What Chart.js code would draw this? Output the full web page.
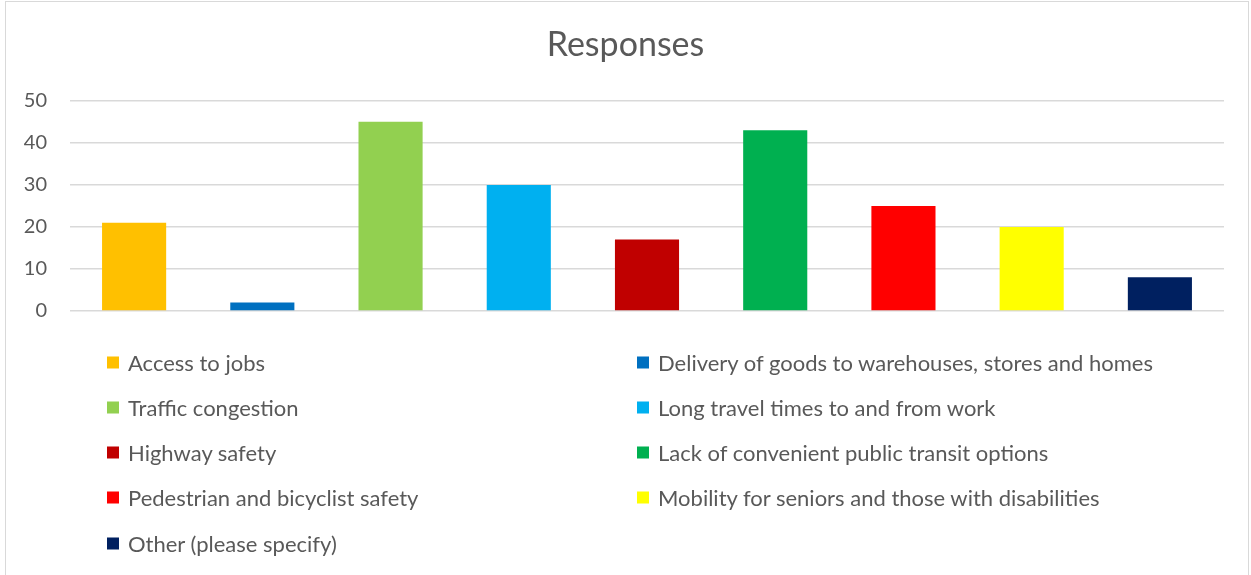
<!DOCTYPE html>
<html>
<head>
<meta charset="utf-8">
<script src="https://cdn.jsdelivr.net/npm/chart.js@4"></script>
<style>
  html, body { margin: 0; padding: 0; background: #fff; }
  #wrap { position: relative; width: 1251px; height: 575px; overflow: hidden; }
  #frame { position: absolute; left: 5px; top: 1px; width: 1244px; height: 620px; border: 1px solid #d9d9d9; box-sizing: border-box; pointer-events: none; }
  canvas { position: absolute; left: 0; top: 0; }
  #legend { position: absolute; left: 0; top: 0; width: 1251px; height: 575px; font-family: Lato, "Open Sans", sans-serif; font-size: 22px; color: #595959; }
  .item { position: absolute; display: flex; align-items: center; white-space: nowrap; transform: translateY(-50%); }
  .box { width: 12px; height: 12px; margin-right: 9px; flex: none; }
</style>
</head>
<body>
<div id="wrap">
  <canvas id="c" width="1251" height="575"></canvas>
  <div id="frame"></div>
  <div id="legend"></div>
</div>
<script>
const categories = [
  "Access to jobs",
  "Delivery of goods to warehouses, stores and homes",
  "Traffic congestion",
  "Long travel times to and from work",
  "Highway safety",
  "Lack of convenient public transit options",
  "Pedestrian and bicyclist safety",
  "Mobility for seniors and those with disabilities",
  "Other (please specify)"
];
const responses = [21, 2, 45, 30, 17, 43, 25, 20, 8];
const barColors = ["#FFC000", "#0070C0", "#92D050", "#00B0F0", "#C00000", "#00B050", "#FF0000", "#FFFF00", "#002060"];
const yTicks = [0, 10, 20, 30, 40, 50];

const chart = new Chart(document.getElementById('c'), {
  type: 'bar',
  data: {
    labels: categories,
    datasets: [{
      label: 'Responses',
      data: responses,
      backgroundColor: barColors,
      borderWidth: 0,
      barPercentage: 0.5,
      categoryPercentage: 1
    }]
  },
  options: {
    responsive: false,
    animation: false,
    layout: { padding: { left: 0, right: 0, top: 0, bottom: 264 } },
    plugins: {
      legend: { display: false },
      tooltip: { enabled: false },
      title: {
        display: true,
        text: 'Responses',
        color: '#595959',
        font: { family: 'Lato', size: 34, weight: 'normal', lineHeight: 1.2 },
        padding: { top: 25, bottom: 35 }
      }
    },
    scales: {
      x: { display: false },
      y: {
        min: yTicks[0],
        max: yTicks[yTicks.length - 1],
        afterBuildTicks: (s) => { s.ticks = yTicks.map(v => ({ value: v })); },
        afterFit: (s) => { s.width = 70; },
        border: { display: false },
        grid: { color: '#d9d9d9', lineWidth: 1.5, drawTicks: false },
        ticks: { color: '#595959', padding: 23, font: { family: 'Lato', size: 20 } }
      },
      yRight: {
        position: 'right',
        min: yTicks[0],
        max: yTicks[yTicks.length - 1],
        afterFit: (s) => { s.width = 27; },
        border: { display: false },
        grid: { display: false, drawTicks: false },
        ticks: { display: false }
      }
    }
  }
});

const legend = document.getElementById('legend');
const rowY = [362, 407, 452, 497, 543];
const colX = [107, 637];
categories.forEach((name, i) => {
  const d = document.createElement('div');
  d.className = 'item';
  d.style.left = colX[i % 2] + 'px';
  d.style.top = rowY[Math.floor(i / 2)] + 'px';
  const b = document.createElement('span');
  b.className = 'box';
  b.style.background = barColors[i];
  const t = document.createElement('span');
  t.textContent = name;
  d.appendChild(b); d.appendChild(t);
  legend.appendChild(d);
});
</script>
</body>
</html>
